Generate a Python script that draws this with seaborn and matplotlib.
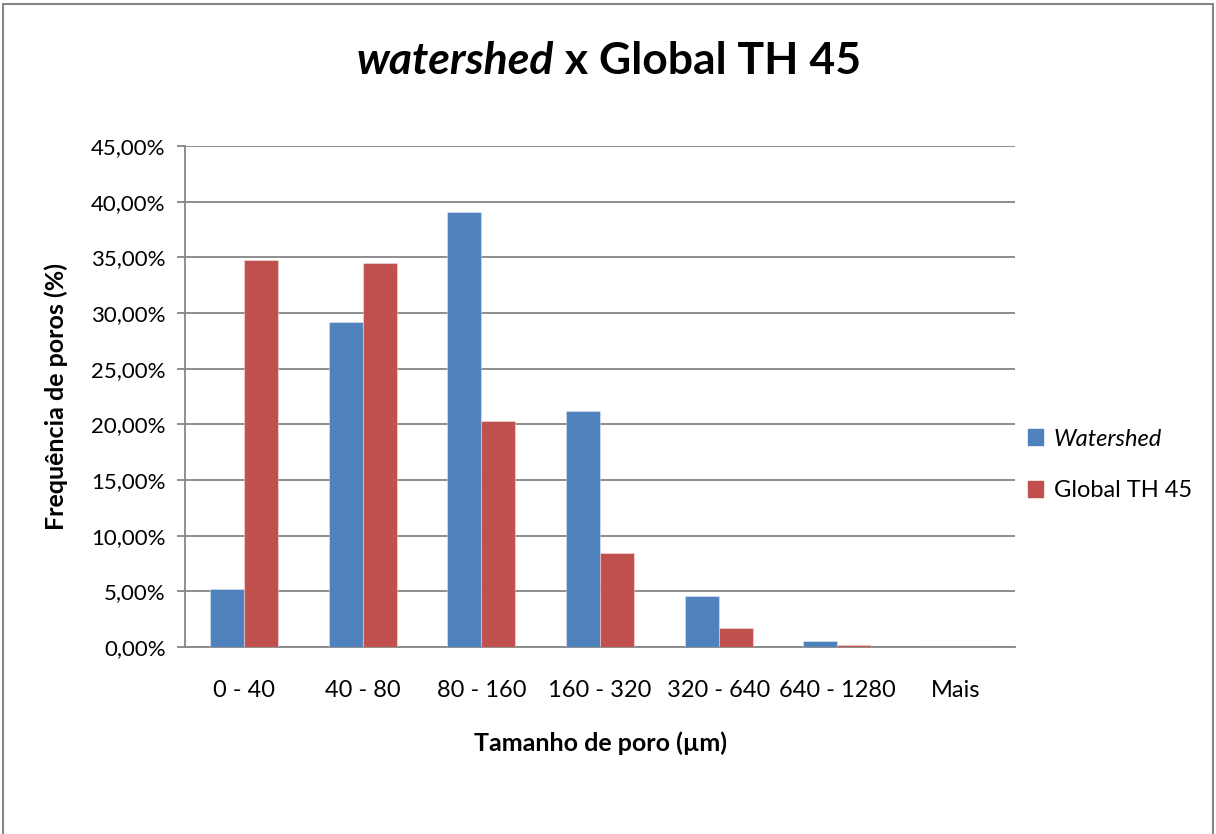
import matplotlib
matplotlib.use("Agg")
import matplotlib.pyplot as plt
import seaborn as sns
import pandas as pd
from matplotlib.ticker import FuncFormatter, MultipleLocator
from matplotlib.patches import Rectangle

categories = ["0 - 40", "40 - 80", "80 - 160", "160 - 320", "320 - 640", "640 - 1280", "Mais"]
watershed = [5.21, 29.19, 39.07, 21.20, 4.58, 0.50, 0.0]
global_th45 = [34.76, 34.45, 20.30, 8.44, 1.71, 0.16, 0.0]
series_names = ["Watershed", "Global TH 45"]
colors = ["#4F81BD", "#C0504D"]

df = pd.DataFrame({
    "cat": categories * 2,
    "val": watershed + global_th45,
    "serie": [series_names[0]] * len(categories) + [series_names[1]] * len(categories),
})

sns.set_theme(style="white")
plt.rcParams["font.family"] = ["Lato", "DejaVu Sans"]
plt.rcParams["text.color"] = "black"
plt.rcParams["axes.labelcolor"] = "black"
plt.rcParams["xtick.color"] = "black"
plt.rcParams["ytick.color"] = "black"

W, H = 1216, 834
fig = plt.figure(figsize=(W / 100, H / 100), dpi=100)
ax = fig.add_axes([185 / W, 1 - 647 / H, 830 / W, 501 / H])

sns.barplot(data=df, x="cat", y="val", hue="serie", palette=colors, ax=ax,
            width=0.573, gap=0, saturation=1, legend=False, zorder=3)
for p in ax.patches:
    p.set_edgecolor((1, 1, 1, 0.35))
    p.set_linewidth(0.8)

ax.set_ylim(0, 45)
ax.set_xlim(-0.5, len(categories) - 0.5)
ax.yaxis.set_major_locator(MultipleLocator(5))
ax.yaxis.set_major_formatter(FuncFormatter(lambda v, _: f"{v:.2f}%".replace(".", ",")))
ax.grid(axis="y", color="#868686", linewidth=1.3, zorder=0)
ax.set_axisbelow(True)
for s in ["top", "right"]:
    ax.spines[s].set_visible(False)
for s in ["left", "bottom"]:
    ax.spines[s].set_color("#868686")
    ax.spines[s].set_linewidth(1.3)
ax.tick_params(axis="y", length=6, width=1.3, color="#868686", labelcolor="black",
               labelsize=16, pad=8, left=True)
ax.tick_params(axis="x", length=0, labelsize=17, labelcolor="black", pad=24)
ax.set_xlabel("Tamanho de poro (µm)", fontsize=18, fontweight="bold", va="center")
ax.set_ylabel("Frequência de poros (%)", fontsize=18, fontweight="bold", va="center")
ax.xaxis.set_label_coords(0.5, (647 - 743) / 501)
ax.yaxis.set_label_coords((56 - 185) / 830, 0.5)

# Title with italic part
ty = 1 - 61 / H
t1 = fig.text(0.5, ty, "watershed", fontsize=32, fontweight="bold", style="italic",
              ha="right", va="center")
t2 = fig.text(0.5, ty, " x Global TH 45", fontsize=32, fontweight="bold",
              ha="left", va="center")
fig.canvas.draw()
r = fig.canvas.get_renderer()
w1 = t1.get_window_extent(r).width
w2 = t2.get_window_extent(r).width
tot = w1 + w2
cx = 609
t1.set_x((cx - tot / 2 + w1) / W)
t2.set_x((cx - tot / 2 + w1) / W)

# Legend
handles = [Rectangle((0, 0), 1, 1, color=c) for c in colors]
leg = fig.legend(handles, series_names, loc="center left", bbox_to_anchor=(1028 / W, 1 - 465 / H),
                 frameon=False, fontsize=17, handlelength=0.65, handleheight=0.65,
                 handletextpad=0.45, labelspacing=1.3, borderpad=0, borderaxespad=0)
leg.get_texts()[0].set_style("italic")

# Outer border
fig.patches.append(Rectangle((3 / W, -0.02), 1210 / W, 1.02 - 4 / H, transform=fig.transFigure,
                             fill=False, edgecolor="#868686", linewidth=1.5))

fig.savefig("out.png", dpi=100)
